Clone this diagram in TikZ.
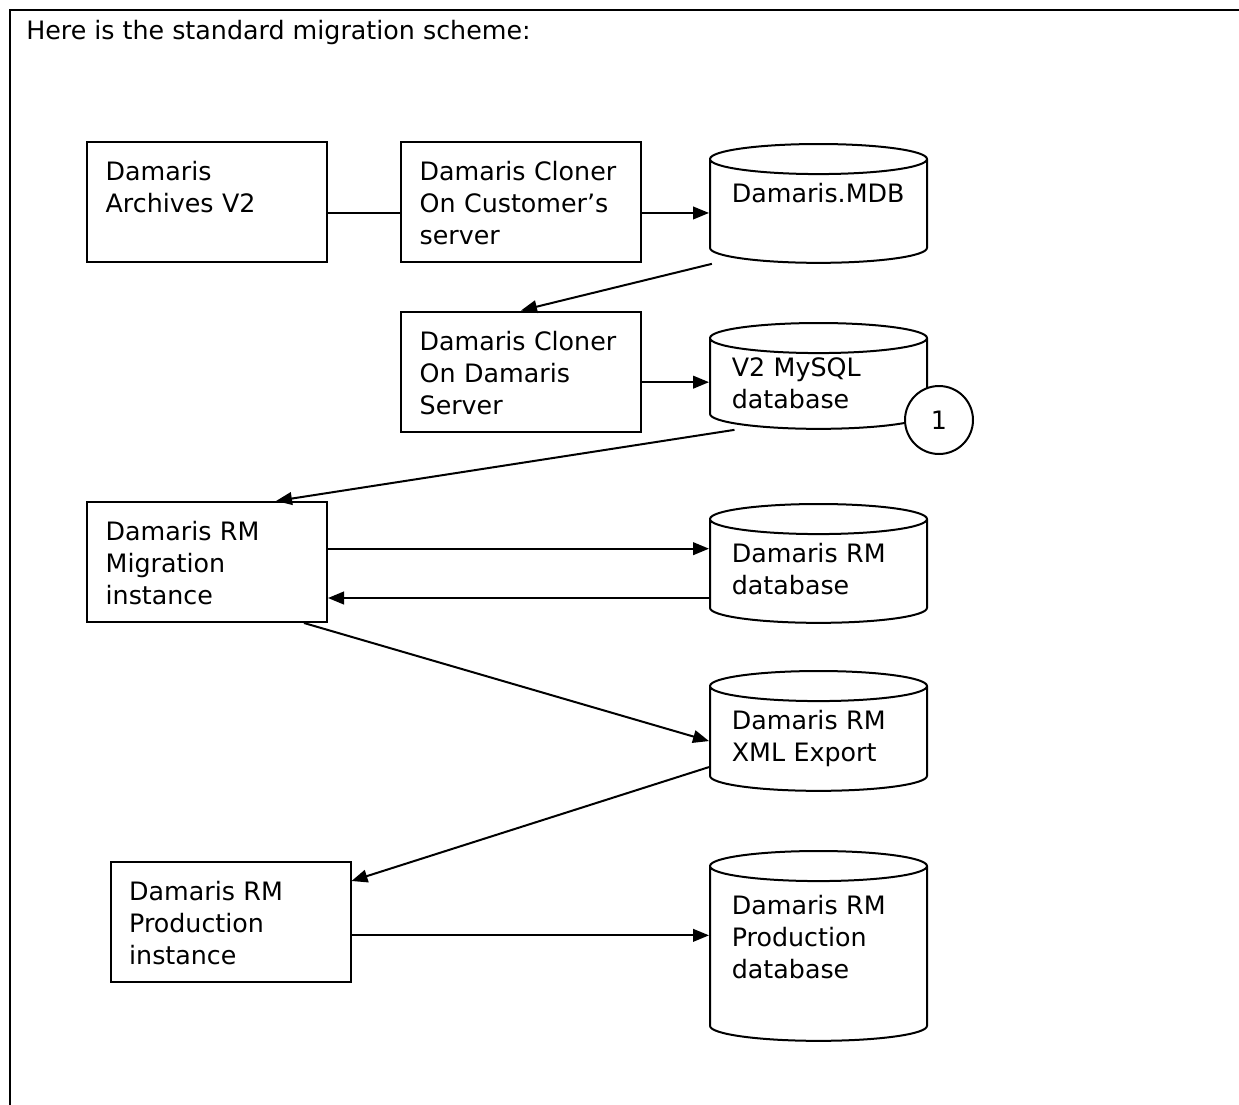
\documentclass[tikz,border=0pt]{standalone}
\usepackage{fontspec}
\setmainfont{DejaVu Sans}
\usetikzlibrary{positioning, arrows.meta, shapes.geometric}

\begin{document}
\begin{tikzpicture}[
    x=0.75pt, y=-0.75pt,
    every node/.style={font=\fontsize{19}{24}\selectfont},
    box/.style={
        draw,
        line width=1.5pt,
        align=left,
        minimum width=180pt,
        minimum height=90pt,
        text width=152pt,
        inner xsep=14pt,
        inner ysep=0pt,
        text height=29pt,
        text depth=61pt
    },
    db/.style={
        draw,
        line width=1.5pt,
        cylinder,
        shape border rotate=90,
        aspect=0.165,
        align=left,
        text width=130pt,
        minimum width=162.75pt,
        inner ysep=0pt,
        text height=20.25pt,
        text depth=37.5pt,
        anchor=north
    },
    arrow/.style={-{Triangle[length=12pt,width=9.5pt]}, line width=1.5pt},
    link/.style={line width=1.5pt}
]
\useasboundingbox (0,0) rectangle (1239,1104);

% frame and heading
\draw[line width=1.5pt] (1250,10) -- (10,10) -- (10,1115);
\node (heading) [anchor=base west, inner sep=0pt] at (26,39) {Here is the standard migration scheme:};

% cloning on the customer side
\node (archives) [box] at (207,201.5) {Damaris\\Archives V2};
\node (ccust) [box, right=54pt of archives] {Damaris Cloner\\On Customer’s\\server};
\node (mdb) [db] at (818.5,143) {Damaris.MDB};

% cloning on the Damaris side
\node (cdam) [box, below=36pt of ccust] {Damaris Cloner\\On Damaris\\Server};
\node (mysql) [db, text height=16.5pt, text depth=31.5pt] at (818.5,322) {V2 MySQL\\database};
\node (one) [circle, draw, fill=white, line width=1.5pt, minimum size=51pt, inner sep=0pt] at (939,420) {1};

% migration instance
\node (mig) [box] at (207,562) {Damaris RM\\Migration\\instance};
\node (rmdb) [db] at (818.5,503) {Damaris RM\\database};
\node (xml) [db, text depth=38.25pt] at (818.5,670) {Damaris RM\\XML Export};

% production instance
\node (prod) [box] at (230.5,922) {Damaris RM\\Production\\instance};
\node (pdb) [db, text height=24pt, text depth=87pt] at (818.5,850) {Damaris RM\\Production\\database};

% connectors
\draw[link] ([yshift=-8.6pt]archives.east) -- ([yshift=-8.6pt]ccust.west);
\draw[arrow] ([yshift=-8.6pt]ccust.east) -- ([yshift=-8.6pt]ccust.east -| mdb.west);
\draw[arrow] ([xshift=-80pt]mdb.south) -- (cdam.north);
\draw[arrow] ([yshift=-8pt]cdam.east) -- ([yshift=-8pt]cdam.east -| mysql.west);
\draw[arrow] ([xshift=-63pt]mysql.south) -- ([xshift=-39pt]mig.north east);
\draw[arrow] ([yshift=10pt]mig.east) -- ([yshift=10pt]mig.east -| rmdb.west);
\draw[arrow] ([yshift=-27pt]mig.east -| rmdb.west) -- ([yshift=-27pt]mig.east);
\draw[arrow] ([xshift=-18pt]mig.south east) -- (xml.west);
\draw[arrow] ([yshift=-19.5pt]xml.west) -- ([yshift=-15pt]prod.north east);
\draw[arrow] ([yshift=-10pt]prod.east) -- ([yshift=-10pt]prod.east -| pdb.west);

\end{tikzpicture}
\end{document}
